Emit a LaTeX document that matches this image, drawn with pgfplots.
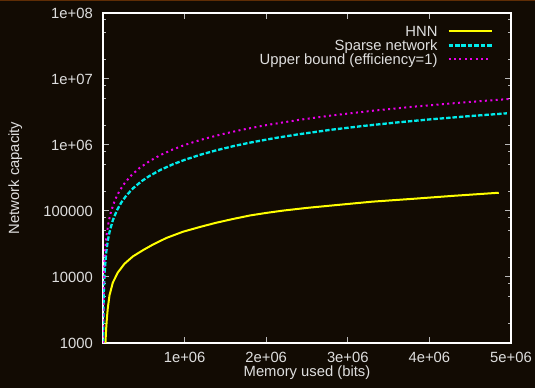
\documentclass[border=0pt]{standalone}
\usepackage{pgfplots}
\pgfplotsset{compat=1.18}
\usepackage{fontspec}
\setmainfont{Liberation Sans}
\definecolor{bg}{RGB}{18,11,3}
\definecolor{topline}{RGB}{95,45,5}
\definecolor{txt}{RGB}{222,222,222}
\definecolor{tk}{RGB}{185,185,185}
\definecolor{cy}{RGB}{0,235,235}
\definecolor{mg}{RGB}{235,0,235}
\definecolor{yl}{RGB}{255,255,0}
\newcommand{\ff}{\fontsize{14.8bp}{17bp}\selectfont}
\begin{document}
\begin{tikzpicture}
\fill[bg] (0bp,0bp) rectangle (535bp,388bp);
\path[use as bounding box] (0bp,0bp) rectangle (535bp,388bp);
\fill[topline] (0bp,386.7bp) rectangle (535bp,388bp);
\begin{axis}[
  at={(103bp,45bp)}, anchor=south west,
  scale only axis, width=408bp, height=330bp,
  xmin=0, xmax=5e6, ymode=log, ymin=1000, ymax=1e8,
  scaled x ticks=false,
  axis line style={draw=white, line width=1.1bp},
  tick align=inside,
  major tick length=6bp, minor tick length=3bp,
  every tick/.style={draw=tk, line width=1bp},
  xtick={1e6,2e6,3e6,4e6,5e6},
  xticklabels={1e+06,2e+06,3e+06,4e+06,5e+06},
  ytick={1e3,1e4,1e5,1e6,1e7,1e8},
  yticklabels={1000,10000,100000,1e+06,1e+07,1e+08},
  minor ytick={2000,5000,8000,20000,50000,80000,2e5,5e5,8e5,2e6,5e6,8e6,2e7,5e7,8e7},
  xticklabel style={anchor=base, inner sep=0pt, yshift=-19.5bp, font=\ff, text=txt},
  yticklabel style={anchor=east, inner sep=0pt, xshift=-10bp, font=\ff, text=txt},
  xlabel={Memory used (bits)}, ylabel={Network capacity},
  every axis x label/.style={at={(axis description cs:0.5,-0.1025)}, anchor=base, inner sep=0pt, font=\ff, text=txt},
  every axis y label/.style={at={(axis description cs:-0.215,0.5)}, rotate=90, anchor=center, inner sep=0pt, font=\ff, text=txt},
  legend style={at={(axis description cs:0.956,0.966)}, anchor=north east, draw=none, fill=none, inner sep=0pt,
    font=\ff, text=txt, row sep=0pt, column sep=8bp,
    nodes={inner sep=2bp, text height=10bp, text depth=0bp}},
  legend cell align=right, legend plot pos=right,
  legend image code/.code={\draw[#1] (0bp,0bp) -- (43bp,0bp);},
]
\addplot[yl, line width=2bp] coordinates {
(30000,1000) (38000,1600) (47000,2300) (59000,3400) (80000,5300)
(120000,8200) (182000,11700) (264000,15900) (366000,20500) (490000,25500)
(612000,31000) (776000,39000) (980000,48500) (1200000,57800) (1390000,66500)
(1600000,76000) (1800000,85500) (2000000,93500) (2210000,101500)
(2500000,111500) (2800000,121000) (3300000,138500) (3800000,153000)
(4300000,170000) (4850000,189000)};
\addlegendentry{HNN}
\addplot[cy, line width=2.3bp, dash pattern=on 4.5bp off 1.9bp] coordinates {
(1700,1000) (5000,3000) (10000,6000) (20000,12000) (40000,24000) (60000,36000)
(80000,48000) (120000,72000) (170000,102000) (225000,135000) (285000,171000)
(370000,222000) (470000,281000) (570000,340000) (700000,417000) (850000,506000)
(1000000,595000) (1200000,716000) (1400000,838000) (1600000,962000)
(1800000,1085000) (2100000,1270000) (2400000,1455000) (2800000,1705000)
(3200000,1950000) (3600000,2195000) (4000000,2440000) (4500000,2745000)
(4950000,3020000)};
\addlegendentry{Sparse network}
\addplot[mg, line width=2bp, dash pattern=on 2bp off 3.4bp] coordinates {
(1000,1000) (3000,3000) (10000,10000) (20000,20000) (40000,40000) (70000,70000)
(100000,100000) (150000,150000) (200000,200000) (270000,270000) (350000,350000)
(450000,450000) (570000,570000) (700000,700000) (850000,850000) (1000000,1000000)
(1200000,1200000) (1450000,1450000) (1700000,1700000) (2000000,2000000)
(2400000,2400000) (2800000,2800000) (3300000,3300000) (3800000,3800000)
(4400000,4400000) (4970000,4970000)};
\addlegendentry{Upper bound (efficiency=1)}
\end{axis}
\end{tikzpicture}
\end{document}
